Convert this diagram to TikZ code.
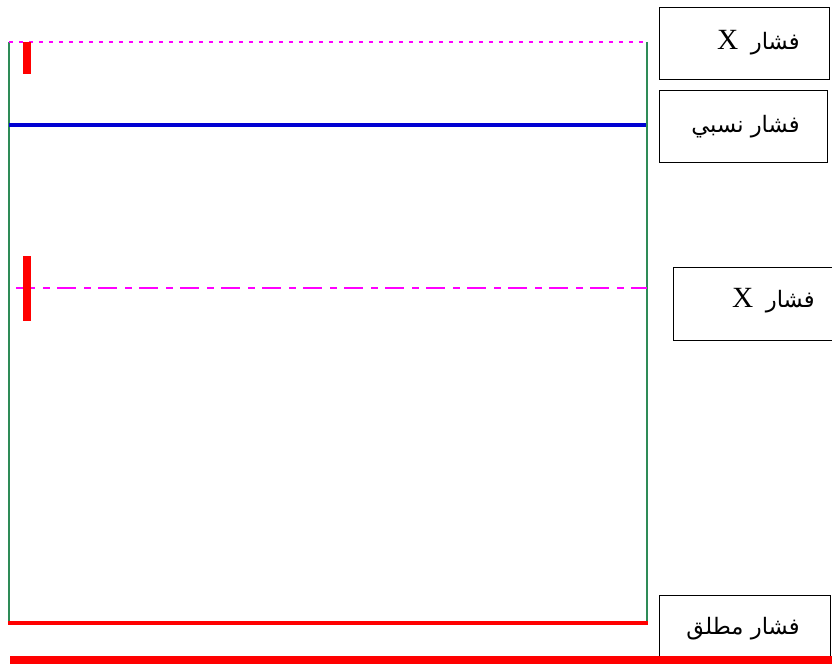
\documentclass[tikz,border=0pt]{standalone}
\usepackage{fontspec}
\setmainfont{Liberation Serif}
\newfontfamily\arabicfont[Script=Arabic]{DejaVu Sans}
\TeXXeTstate=1
\definecolor{frameGreen}{RGB}{46,139,87}
\definecolor{levelMagenta}{RGB}{255,0,255}
\definecolor{levelBlue}{RGB}{0,0,210}
\definecolor{levelRed}{RGB}{255,0,0}
\tikzset{
  labelbox/.style={draw=black, line width=0.9pt, fill=white, anchor=north west, inner sep=0pt},
  labeltext/.style={anchor=base east, inner sep=0pt, font=\fontsize{17}{20}\selectfont},
  framewall/.style={draw=frameGreen, line width=1.1pt},
  marker/.style={fill=levelRed, draw=none},
}
\newcommand{\pressurelabel}[1]{{\arabicfont\beginR #1\endR}}
\newcommand{\bigX}{\hspace{4pt}{\rmfamily\fontsize{22}{24}\selectfont X}}
\begin{document}
\begin{tikzpicture}[x=0.75pt,y=-0.75pt]
\useasboundingbox (0,0) rectangle (832,664);

% container walls
\coordinate (tl) at (9,42);
\coordinate (bl) at (9,622);
\coordinate (tr) at (647,42);
\coordinate (br) at (647,622);
\draw[framewall] (tl) -- (bl);
\draw[framewall] (tr) -- (br);

% reference levels
\coordinate (topL) at (9,42);
\coordinate (topR) at (647,42);
\draw[levelMagenta, line width=1.5pt, dash pattern=on 3pt off 4.5pt] (topL) -- (topR);

\coordinate (blueL) at (9,125);
\coordinate (blueR) at (646,125);
\draw[levelBlue, line width=3pt] (blueL) -- (blueR);

\coordinate (midL) at (16,288);
\coordinate (midR) at (647,288);
\draw[levelMagenta, line width=2pt, dash pattern=on 14.25pt off 6pt on 5.25pt off 5.25pt] (midL) -- (midR);

\coordinate (floorL) at (8,623);
\coordinate (floorR) at (648,623);
\draw[levelRed, line width=3.3pt] (floorL) -- (floorR);

% short red markers
\fill[marker] (23,42) rectangle (31,74);
\fill[marker] (23,256) rectangle (31,321);

% label boxes
\node[labelbox, minimum width=127.5pt, minimum height=54pt] (b1) at (659,7) {};
\node[labeltext] (t1) at (800,49) {\pressurelabel{فشار \bigX}};

\node[labelbox, minimum width=126pt, minimum height=54pt] (b2) at (659,90) {};
\node[labeltext] (t2) at (800,132) {\pressurelabel{فشار نسبي}};

\node[labelbox, minimum width=125pt, minimum height=54.75pt] (b3) at (673,267) {};
\node[labeltext] (t3) at (815,307) {\pressurelabel{فشار \bigX}};

\node[labelbox, minimum width=128pt, minimum height=60pt] (b4) at (659,595) {};
\node[labeltext] (t4) at (800,634) {\pressurelabel{فشار مطلق}};

% bottom red line
\coordinate (baseL) at (10,660);
\coordinate (baseR) at (832,660);
\draw[levelRed, line width=6pt] (baseL) -- (baseR);
\end{tikzpicture}
\end{document}
